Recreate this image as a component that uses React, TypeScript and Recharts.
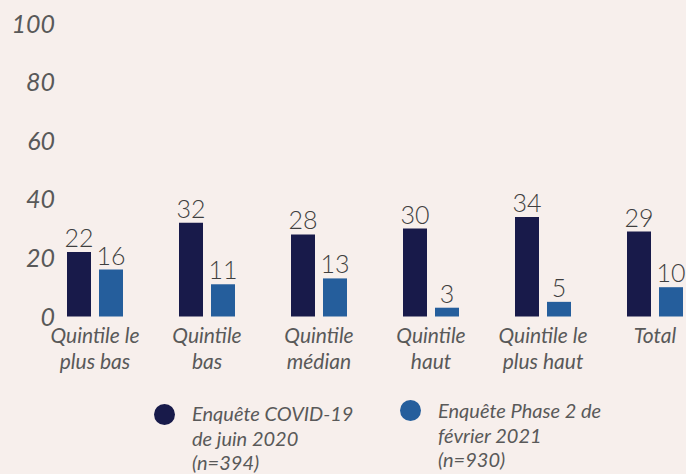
import { Bar, BarChart, LabelList, XAxis, YAxis } from "recharts";

const categories = [
  "Quintile le\nplus bas",
  "Quintile\nbas",
  "Quintile\nmédian",
  "Quintile\nhaut",
  "Quintile le\nplus haut",
  "Total",
];
const june2020 = [22, 32, 28, 30, 34, 29];
const feb2021 = [16, 11, 13, 3, 5, 10];
const yTicks = [0, 20, 40, 60, 80, 100];

const seriesNames = [
  "Enquête COVID-19\nde juin 2020\n(n=394)",
  "Enquête Phase 2 de\nfévrier 2021\n(n=930)",
];
const seriesColors = ["#181a4a", "#255e9c"];

const data = categories.map((c, i) => ({
  cat: c,
  june: june2020[i],
  feb: feb2021[i],
}));

const GREY = "#595959";
const BG = "#f7efec";

function XTick({ x, y, payload }: any) {
  const lines = String(payload.value).split("\n");
  return (
    <text
      x={x}
      y={y + 18.5}
      textAnchor="middle"
      fill={GREY}
      fontFamily="Lato"
      fontStyle="italic"
      fontSize={21}
    >
      {lines.map((l, i) => (
        <tspan key={i} x={x} dy={i === 0 ? 0 : 26}>
          {l}
        </tspan>
      ))}
    </text>
  );
}

function YTick({ y, payload }: any) {
  return (
    <text
      x={55}
      y={y}
      dy="0.36em"
      textAnchor="end"
      fill={GREY}
      fontFamily="Lato"
      fontStyle="italic"
      fontSize={25}
    >
      {payload.value}
    </text>
  );
}

const labelStyle = {
  fill: "#3f3f3f",
  fontFamily: "Lato",
  fontWeight: 300,
  fontSize: 25,
};

const legendPos = [
  { left: 154, top: 401, dotTop: 2.5 },
  { left: 400, top: 398, dotTop: 1.5 },
];

export default function App() {
  return (
    <div
      style={{
        position: "fixed",
        left: 0,
        top: 0,
        width: 686,
        height: 474,
        overflow: "hidden",
        background: BG,
      }}
    >
      <BarChart
        width={720}
        height={474}
        data={data}
        margin={{ top: 23.5, right: 9, left: 0, bottom: 97.5 }}
        barSize={24}
        barGap={8}
      >
        <XAxis
          dataKey="cat"
          axisLine={false}
          tickLine={false}
          height={60}
          interval={0}
          tick={<XTick />}
        />
        <YAxis
          width={39}
          domain={[0, 100]}
          ticks={yTicks}
          axisLine={false}
          tickLine={false}
          tick={<YTick />}
        />
        <Bar dataKey="june" fill={seriesColors[0]} isAnimationActive={false}>
          <LabelList dataKey="june" position="top" style={labelStyle} />
        </Bar>
        <Bar dataKey="feb" fill={seriesColors[1]} isAnimationActive={false}>
          <LabelList dataKey="feb" position="top" style={labelStyle} />
        </Bar>
      </BarChart>
      {seriesNames.map((name, i) => (
        <div
          key={i}
          style={{
            position: "absolute",
            left: legendPos[i].left,
            top: legendPos[i].top,
            display: "flex",
            alignItems: "flex-start",
          }}
        >
          <div
            style={{
              width: 21,
              height: 21,
              borderRadius: "50%",
              background: seriesColors[i],
              marginTop: legendPos[i].dotTop,
              marginRight: 17,
              flexShrink: 0,
            }}
          />
          <div
            style={{
              fontFamily: "Lato",
              fontStyle: "italic",
              fontSize: 20,
              lineHeight: "24.5px",
              color: GREY,
              whiteSpace: "pre",
            }}
          >
            {name}
          </div>
        </div>
      ))}
    </div>
  );
}
